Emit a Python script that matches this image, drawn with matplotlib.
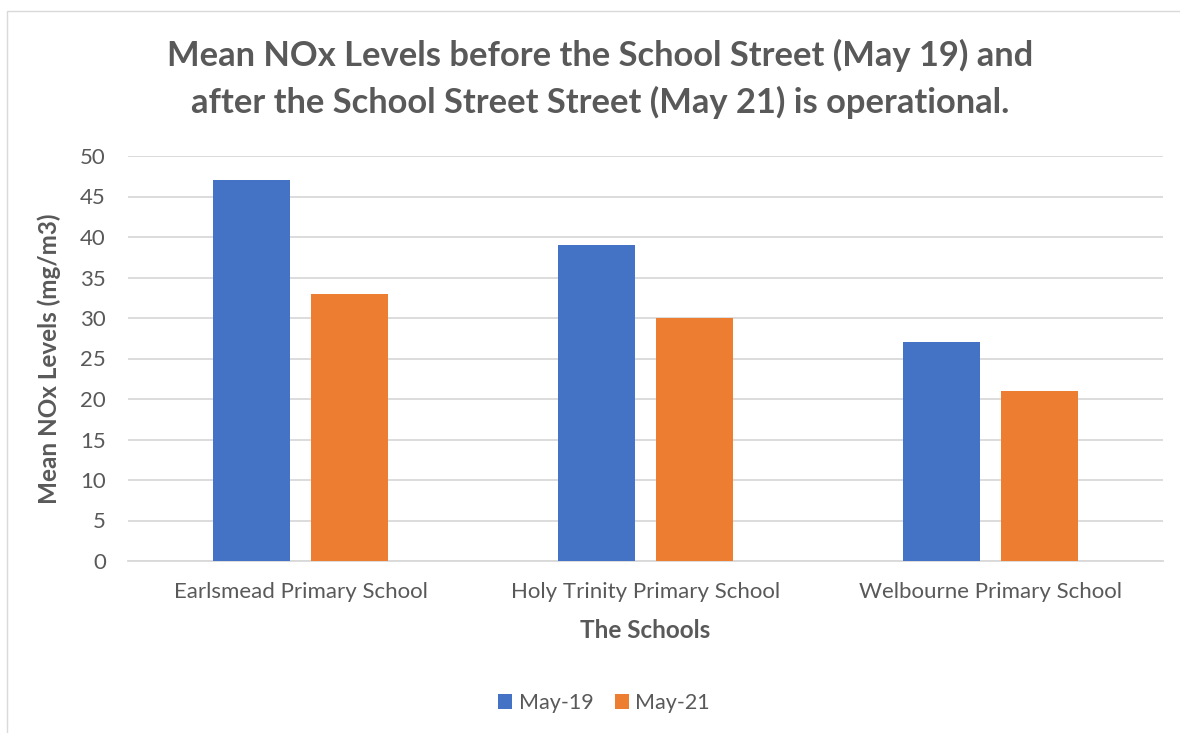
import matplotlib
matplotlib.use("Agg")
import matplotlib.pyplot as plt
import numpy as np
from matplotlib.patches import Rectangle

categories = ["Earlsmead Primary School", "Holy Trinity Primary School", "Welbourne Primary School"]
series_names = ["May-19", "May-21"]
may19 = [47, 39, 27]
may21 = [33, 30, 21]
yticks = [0, 5, 10, 15, 20, 25, 30, 35, 40, 45, 50]

W, H = 1180, 733
plt.rcParams['font.family'] = ['Lato', 'DejaVu Sans']
fig = plt.figure(figsize=(W/100, H/100), dpi=100)
fig.patch.set_facecolor('white')

# chart border
fig.patches.append(Rectangle((7/W, -0.05), 1.2, 1 - 11/H + 0.05, transform=fig.transFigure,
                             fill=False, edgecolor='#D9D9D9', linewidth=1.0))

ax = fig.add_axes([128/W, 1 - 561/H, (1163 - 128)/W, (561 - 156)/H])
x = np.arange(len(categories))
bw = 0.223
off = 0.142
gray = '#595959'
ax.bar(x - off, may19, bw, color='#4472C4', label=series_names[0], zorder=3)
ax.bar(x + off, may21, bw, color='#ED7D31', label=series_names[1], zorder=3)
ax.set_xlim(-0.5, len(categories) - 0.5)
ax.set_ylim(0, 50)
ax.set_yticks(yticks)
ax.set_xticks(x)
ax.set_xticklabels(categories)
ax.yaxis.grid(True, color='#D9D9D9', linewidth=1.3, zorder=0)
for s in ['top', 'right', 'left']:
    ax.spines[s].set_visible(False)
ax.spines['bottom'].set_color('#D9D9D9')
ax.spines['bottom'].set_linewidth(1.3)
ax.tick_params(axis='both', length=0, colors=gray, labelsize=16)
ax.tick_params(axis='y', pad=16)
ax.tick_params(axis='x', pad=15)

ax.set_ylabel("Mean NOx Levels (mg/m3)", fontsize=17.5, fontweight='bold', color=gray, labelpad=14)
ax.set_xlabel("The Schools", fontsize=17.5, fontweight='bold', color=gray, labelpad=12)

fig.text(600/W, 1 - 55/H, "Mean NOx Levels before the School Street (May 19) and",
         ha='center', va='center', fontsize=24.8, fontweight='bold', color=gray)
fig.text(600/W, 1 - 102/H, "after the School Street Street (May 21) is operational.",
         ha='center', va='center', fontsize=24.8, fontweight='bold', color=gray)

leg = fig.legend(loc='center', bbox_to_anchor=(604/W, 1 - 703/H), ncol=2, frameon=False,
                 fontsize=15.5, handlelength=0.65, handleheight=0.65, columnspacing=1.0, handletextpad=0.3)
for t in leg.get_texts():
    t.set_color(gray)

fig.savefig("out.png", dpi=100, facecolor='white')
